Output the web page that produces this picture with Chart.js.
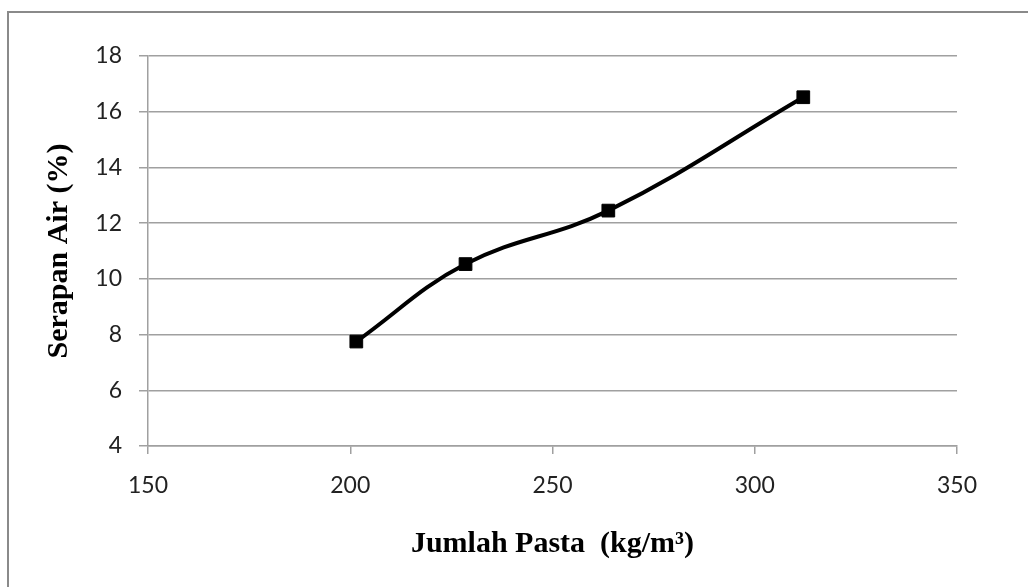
<!DOCTYPE html>
<html>
<head>
<meta charset="utf-8">
<script src="https://cdn.jsdelivr.net/npm/chart.js@4/dist/chart.umd.min.js"></script>
<style>
  html, body { margin: 0; padding: 0; background: #fff; }
  #wrap { position: relative; width: 1028px; height: 587px; overflow: hidden; }
  #frame { position: absolute; left: 7px; top: 11px; width: 1100px; height: 700px;
           border-left: 2px solid #8a8a8a; border-top: 2px solid #8a8a8a; pointer-events: none; }
  canvas { position: absolute; left: 0; top: 0; }
</style>
</head>
<body>
<div id="wrap">
  <canvas id="c" width="1028" height="587"></canvas>
  <div id="frame"></div>
</div>
<script>
// Data
const pastaAmount = [201.5, 228.5, 263.8, 312];      // Jumlah Pasta (kg/m³)
const waterAbsorption = [7.75, 10.53, 12.45, 16.52];  // Serapan Air (%)
const xTicks = [150, 200, 250, 300, 350];
const yTicks = [4, 6, 8, 10, 12, 14, 16, 18];
const xTitle = 'Jumlah Pasta  (kg/m³)';
const yTitle = 'Serapan Air (%)';

const points = pastaAmount.map((x, i) => ({ x: x, y: waterAbsorption[i] }));

const tickFont = { family: 'Lato', size: 23 };
const titleFont = { family: 'Liberation Serif', size: 30, weight: 'bold' };
const gridColor = '#a0a0a0';

new Chart(document.getElementById('c'), {
  type: 'line',
  data: {
    datasets: [{
      data: points,
      borderColor: '#000',
      borderWidth: 4,
      backgroundColor: '#000',
      pointStyle: 'rect',
      pointRadius: 9,
      pointBorderWidth: 1,
      pointBackgroundColor: '#000',
      pointBorderColor: '#000',
      tension: 0.4,
      fill: false
    }]
  },
  options: {
    responsive: false,
    devicePixelRatio: 1,
    animation: false,
    layout: { padding: { left: 0, top: 56, right: 71, bottom: 0 } },
    plugins: { legend: { display: false }, tooltip: { enabled: false } },
    scales: {
      x: {
        type: 'linear',
        min: xTicks[0],
        max: xTicks[xTicks.length - 1],
        afterBuildTicks: s => { s.ticks = xTicks.map(v => ({ value: v })); },
        afterFit: s => { s.height = 141; },
        grid: { drawOnChartArea: false, drawTicks: true, tickLength: 8, color: gridColor, lineWidth: 1.5 },
        border: { display: true, color: gridColor, width: 1.5 },
        ticks: { font: tickFont, color: '#222', padding: 18, maxRotation: 0 },
        title: { display: true, text: xTitle, font: titleFont, color: '#000', padding: { top: 0, bottom: 25 } }
      },
      y: {
        type: 'linear',
        min: yTicks[0],
        max: yTicks[yTicks.length - 1],
        afterBuildTicks: s => { s.ticks = yTicks.map(v => ({ value: v })); },
        afterFit: s => { s.width = 148; },
        grid: { drawOnChartArea: true, drawTicks: true, tickLength: 9, color: gridColor, lineWidth: 1.5 },
        border: { display: true, color: gridColor, width: 1.5 },
        ticks: { font: tickFont, color: '#222', padding: 17 },
        title: { display: true, text: yTitle, font: titleFont, color: '#000', padding: { top: 41, bottom: 0 } }
      }
    }
  }
});
</script>
</body>
</html>
